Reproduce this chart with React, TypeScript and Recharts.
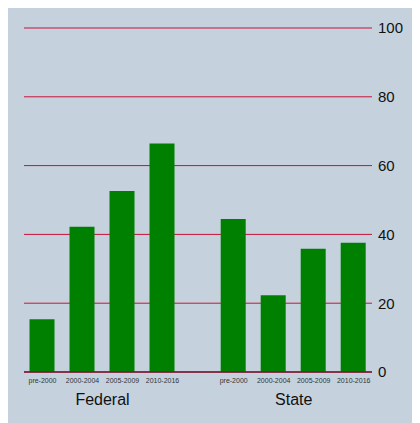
import React from 'react';
import { BarChart, Bar, XAxis, YAxis, CartesianGrid } from 'recharts';

const periods = ['pre-2000', '2000-2004', '2005-2009', '2010-2016'];
const groups = ['Federal', 'State'];
const federalValues = [15.3, 42.2, 52.6, 66.4];
const stateValues = [44.5, 22.3, 35.8, 37.6];
const yTicks = [0, 20, 40, 60, 80, 100];

// layout constants (positions in axis units)
const GROUP_STRIDE = 4.78;
const DOMAIN: [number, number] = [0.5375, 9.2375];

const seriesByGroup = [federalValues, stateValues];

const data = seriesByGroup.flatMap((vals, g) =>
  vals.map((v, i) => ({
    x: 1 + g * GROUP_STRIDE + i,
    period: periods[i],
    group: groups[g],
    value: v,
  }))
);

const periodTicks = data.map((d) => d.x);
const labelAt = (x: number) => {
  const d = data.find((e) => Math.abs(e.x - x) < 1e-6);
  return d ? d.period : '';
};
const groupTicks = groups.map((_, g) => 1 + g * GROUP_STRIDE + (periods.length - 1) / 2);
const groupAt = (x: number) => {
  const idx = groupTicks.findIndex((t) => Math.abs(t - x) < 1e-6);
  return idx >= 0 ? groups[idx] : '';
};

export default function App() {
  return (
    <div style={{ width: 412, height: 415, background: '#c5d2de', fontFamily: '"Liberation Sans", Arial, sans-serif' }}>
      <BarChart
        width={412}
        height={415}
        data={data}
        margin={{ top: 20, right: 0, left: 16, bottom: 5 }}
      >
        <CartesianGrid horizontal vertical={false} stroke="#c8103a" strokeWidth={1} />
        <XAxis
          dataKey="x"
          type="number"
          domain={DOMAIN}
          ticks={periodTicks}
          tickFormatter={labelAt}
          interval={0}
          height={16}
          tickLine={false}
          tickSize={0}
          tickMargin={6}
          axisLine={{ stroke: '#6b2035', strokeWidth: 1.5 }}
          tick={{ fontSize: 7, fill: '#333' }}
          allowDataOverflow
        />
        <XAxis
          xAxisId="g"
          dataKey="x"
          type="number"
          domain={DOMAIN}
          ticks={groupTicks}
          tickFormatter={groupAt}
          interval={0}
          height={30}
          tickLine={false}
          tickSize={0}
          tickMargin={6}
          axisLine={false}
          tick={{ fontSize: 16, fill: '#111' }}
          allowDataOverflow
        />
        <YAxis
          orientation="right"
          domain={[0, 100]}
          ticks={yTicks}
          width={48}
          axisLine={false}
          tickLine={false}
          tickSize={0}
          tickMargin={6}
          tick={{ fontSize: 15, fill: '#111' }}
        />
        <Bar dataKey="value" fill="#008000" barSize={25} isAnimationActive={false} />
      </BarChart>
    </div>
  );
}
